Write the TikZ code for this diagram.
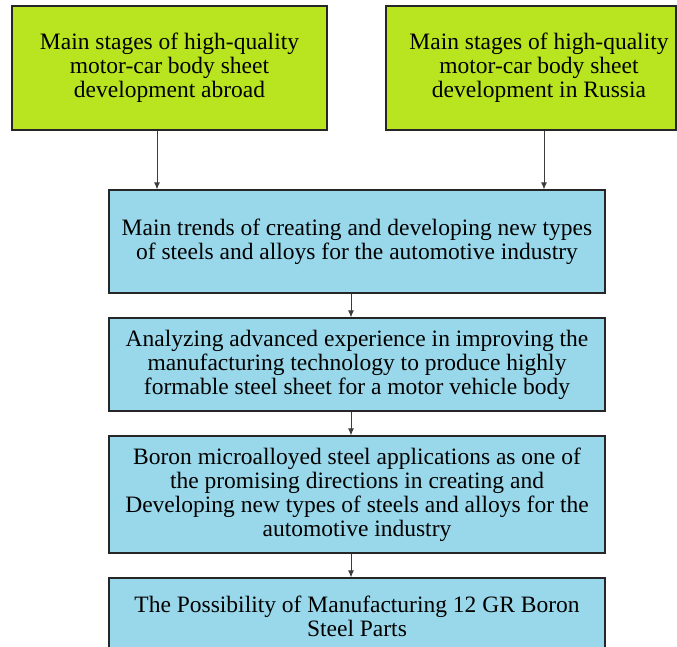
\documentclass[tikz,border=0pt]{standalone}
\usepackage{fontspec}
\setmainfont{Liberation Serif}
\usetikzlibrary{arrows.meta}
\definecolor{boxgreen}{RGB}{184,228,32}
\definecolor{boxblue}{RGB}{153,216,234}
\definecolor{arrgray}{RGB}{60,60,60}
\tikzset{
  box/.style={draw=black!85, line width=1.1pt, align=center, inner sep=0pt,
    font=\fontsize{23.5}{24}\selectfont},
  greenbox/.style={box, fill=boxgreen},
  bluebox/.style={box, fill=boxblue, minimum width=496pt},
  arr/.style={draw=arrgray, line width=1pt, -{Latex[length=7pt,width=6pt]}}
}
\begin{document}
\begin{tikzpicture}[x=1pt,y=-1pt]
\useasboundingbox (0,0) rectangle (677,647);
\clip (0,0) rectangle (677,647);
\fill[white] (0,0) rectangle (677,647);
\node[greenbox, minimum width=315pt, minimum height=124pt] (L) at (169.5,68)
  {Main stages of high-quality\\motor-car body sheet\\development abroad};
\node[greenbox, minimum width=290pt, minimum height=124pt] (R) at (531,68)
  {\hspace*{16pt}Main stages of high-quality\\\hspace*{16pt}motor-car body sheet\\\hspace*{16pt}development in Russia};
\node[bluebox, minimum height=103pt] (T) at (357,241.5)
  {Main trends of creating and developing new types\\of steels and alloys for the automotive industry};
\node[bluebox, minimum height=93pt] (A) at (357,364.5)
  {Analyzing advanced experience in improving the\\manufacturing technology to produce highly\\formable steel sheet for a motor vehicle body};
\node[bluebox, minimum height=117pt] (B) at (357,494.5)
  {Boron microalloyed steel applications as one of\\the promising directions in creating and\\Developing new types of steels and alloys for the\\automotive industry};
\node[bluebox, minimum height=76pt] (P) at (357,616)
  {The Possibility of Manufacturing 12 GR Boron\\Steel Parts};
\coordinate (xl) at (157,0);
\coordinate (xr) at (544,0);
\coordinate (xm) at (351,0);
\draw[arr] (xl |- L.south) -- (xl |- T.north);
\draw[arr] (xr |- R.south) -- (xr |- T.north);
\draw[arr] (xm |- T.south) -- (xm |- A.north);
\draw[arr] (xm |- A.south) -- (xm |- B.north);
\draw[arr] (xm |- B.south) -- (xm |- P.north);
\end{tikzpicture}
\end{document}
